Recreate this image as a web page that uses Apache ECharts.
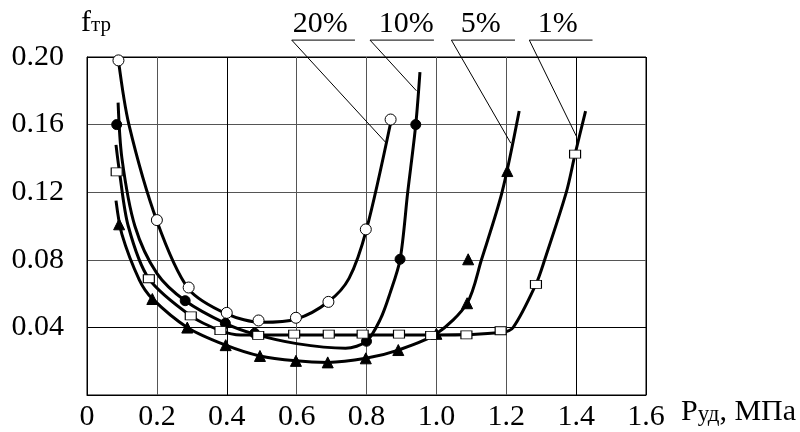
<!DOCTYPE html>
<html>
<head>
<meta charset="utf-8">
<script src="https://cdn.jsdelivr.net/npm/echarts@6/dist/echarts.min.js"></script>
<style>html,body{margin:0;padding:0;background:#fff}#c{width:800px;height:432px}</style>
</head>
<body>
<div id="c"></div>
<script>
// ---- data ----
const xTicks = [0, 0.2, 0.4, 0.6, 0.8, 1.0, 1.2, 1.4, 1.6];
const yTicks = [0.04, 0.08, 0.12, 0.16, 0.20];

// measured points (markers)
const pts20 = [[0.09,0.198],[0.20,0.1035],[0.291,0.0636],[0.40,0.0486],[0.491,0.0441],[0.598,0.0457],[0.691,0.0551],[0.798,0.098],[0.869,0.163]];
const pts10 = [[0.085,0.160],[0.281,0.0558],[0.396,0.0424],[0.48,0.0365],[0.80,0.0318],[0.896,0.0803],[0.941,0.160]];
const pts5  = [[0.092,0.101],[0.187,0.0568],[0.287,0.0399],[0.397,0.0295],[0.495,0.0231],[0.598,0.0202],[0.689,0.0193],[0.798,0.0217],[0.891,0.0266],[1.0,0.0362],[1.088,0.0543],[1.091,0.0803],[1.203,0.1325]];
const pts1  = [[0.085,0.132],[0.177,0.0688],[0.297,0.0468],[0.382,0.0381],[0.49,0.0353],[0.593,0.036],[0.692,0.036],[0.789,0.036],[0.893,0.036],[0.985,0.0353],[1.086,0.0356],[1.184,0.038],[1.285,0.0655],[1.397,0.1425]];

// fitted curves (as traced on the picture)
const curve20 = [[0.09,0.198],[0.12,0.160],[0.20,0.103],[0.29,0.063],[0.40,0.048],[0.50,0.043],[0.60,0.045],[0.69,0.055],[0.75,0.069],[0.80,0.098],[0.87,0.162]];
const curve10 = [[0.089,0.173],[0.10,0.140],[0.137,0.100],[0.20,0.072],[0.281,0.0558],[0.396,0.0424],[0.48,0.036],[0.60,0.0304],[0.74,0.0277],[0.80,0.0318],[0.84,0.045],[0.867,0.060],[0.896,0.080],[0.918,0.120],[0.941,0.160],[0.953,0.191]];
const curve5  = [[0.083,0.115],[0.10,0.095],[0.15,0.068],[0.187,0.057],[0.287,0.040],[0.397,0.0295],[0.495,0.0231],[0.598,0.0202],[0.689,0.0193],[0.798,0.0217],[0.891,0.0266],[1.0,0.0362],[1.088,0.0543],[1.129,0.080],[1.188,0.120],[1.237,0.168]];
const curve1  = [[0.083,0.148],[0.093,0.132],[0.118,0.100],[0.177,0.0688],[0.297,0.0468],[0.382,0.0381],[0.44,0.0355],[0.49,0.0355],[0.60,0.0355],[0.80,0.0355],[1.00,0.0355],[1.186,0.037],[1.22,0.040],[1.285,0.0655],[1.31,0.080],[1.372,0.120],[1.397,0.1425],[1.427,0.168]];

// callout labels
const calloutLabels = ['20%', '10%', '5%', '1%'];
const calloutLineStart = [[0.586,0.21],[0.810,0.21],[1.043,0.21],[1.266,0.21]];
const calloutLineEndX = [0.767, 0.993, 1.225, 1.447];
const calloutTextX = [0.589, 0.835, 1.070, 1.290];
const calloutTarget = [[0.857,0.149],[0.943,0.180],[1.213,0.149],[1.401,0.153]];

const FONT = '"Liberation Serif", "Times New Roman", serif';

const chart = echarts.init(document.getElementById('c'), null, {renderer: 'canvas'});

function curveSeries(d) {
  return {type: 'line', data: d, smooth: 0.3, showSymbol: false, symbol: 'none',
    lineStyle: {color: '#000', width: 3}, z: 3, animation: false, silent: true};
}
function markerSeries(d, symbol, size, fill) {
  return {type: 'scatter', data: d, symbol: symbol, symbolSize: size,
    itemStyle: {color: fill, borderColor: '#000', borderWidth: 1, opacity: 1}, z: 5, animation: false, silent: true};
}

const option = {
  animation: false,
  backgroundColor: '#fff',
  grid: {left: 87, right: 154, top: 57, bottom: 29, show: true, borderColor: '#000', borderWidth: 1},
  xAxis: {
    type: 'value', min: 0, max: 1.6, interval: 0.2,
    axisLine: {show: true, lineStyle: {color: '#000', width: 1}},
    axisTick: {show: false},
    splitLine: {show: true, lineStyle: {color: ['#000','#555','#000','#555','#555','#555','#555','#000','#000'], width: 1}},
    axisLabel: {color: '#000', fontFamily: FONT, fontSize: 30, margin: 7,
      formatter: v => (Math.abs(v) < 1e-9 ? '0' : v.toFixed(1))}
  },
  yAxis: {
    type: 'value', min: 0, max: 0.2, interval: 0.04,
    axisLine: {show: true, lineStyle: {color: '#000', width: 1}},
    axisTick: {show: false},
    splitLine: {show: true, lineStyle: {color: ['#000','#000','#555','#555','#555','#000'], width: 1}},
    axisLabel: {color: '#000', fontFamily: FONT, fontSize: 30, margin: 23,
      formatter: v => (Math.abs(v) < 1e-9 ? '' : v.toFixed(2))}
  },
  graphic: [
    {type: 'text', left: 81, top: 8, style: {
      text: '{a|f}{b|тр}', rich: {
        a: {fontFamily: FONT, fontSize: 30, fill: '#000', lineHeight: 32, verticalAlign: 'bottom'},
        b: {fontFamily: FONT, fontSize: 21, fill: '#000', lineHeight: 32, verticalAlign: 'bottom', padding: [0,0,2,0]}
      }}},
    {type: 'text', left: 681, top: 397, style: {
      text: '{a|Р}{b|уд}{a|, МПа}', rich: {
        a: {fontFamily: FONT, fontSize: 30, fill: '#000', lineHeight: 32, verticalAlign: 'bottom'},
        b: {fontFamily: FONT, fontSize: 23, fill: '#000', lineHeight: 32, verticalAlign: 'bottom', padding: [0,0,1,0]}
      }}}
  ],
  series: [
    curveSeries(curve20), curveSeries(curve10), curveSeries(curve5), curveSeries(curve1),
    markerSeries(pts20, 'circle', 11, '#fff'),
    markerSeries(pts10, 'circle', 10, '#000'),
    markerSeries(pts5, 'triangle', 11, '#000'),
    markerSeries(pts1, 'rect', [11, 8], '#fff'),
    {
      type: 'custom', coordinateSystem: 'cartesian2d', clip: false, z: 6, silent: true, animation: false,
      data: calloutLineStart.map((p, i) => [p[0], p[1], i]),
      renderItem: function (params, api) {
        const i = api.value(2);
        const s = api.coord(calloutLineStart[i]);
        const e = api.coord([calloutLineEndX[i], calloutLineStart[i][1]]);
        const t = api.coord(calloutTarget[i]);
        const tx = api.coord([calloutTextX[i], calloutLineStart[i][1]]);
        return {type: 'group', children: [
          {type: 'line', shape: {x1: s[0], y1: s[1], x2: e[0], y2: e[1]}, style: {stroke: '#000', lineWidth: 1}},
          {type: 'line', shape: {x1: s[0], y1: s[1], x2: t[0], y2: t[1]}, style: {stroke: '#000', lineWidth: 1}},
          {type: 'text', x: tx[0], y: s[1] - 1, style: {text: calloutLabels[i], fontFamily: FONT, fontSize: 30,
            fill: '#000', textAlign: 'left', textVerticalAlign: 'bottom'}}
        ]};
      }
    }
  ]
};
chart.setOption(option);
</script>
</body>
</html>
